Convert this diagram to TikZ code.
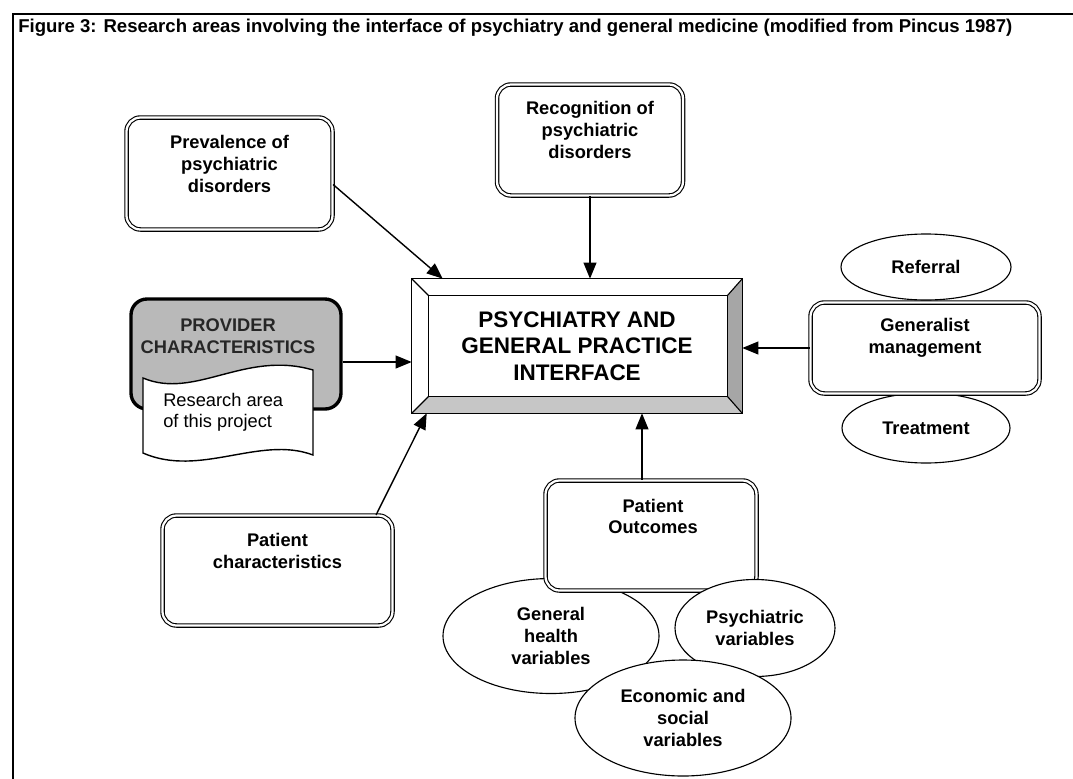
\documentclass[tikz,border=0pt]{standalone}
\usepackage{fontspec}
\setmainfont{Liberation Sans}
\usetikzlibrary{calc}
\usetikzlibrary{positioning}
\usetikzlibrary{arrows.meta}
\usetikzlibrary{shapes.geometric}

\newcommand{\pxu}{0.025cm}

\tikzset{
  dbox/.style={draw, line width=0.8pt, double, double distance=1.6pt, rounded corners=0.35cm, fill=white, inner sep=0pt},
  lbl/.style={align=center, inner sep=0pt, font=\fontsize{13}{15.5}\selectfont\bfseries},
  oval/.style={ellipse, draw, line width=0.8pt, fill=white, inner sep=0pt, align=center, font=\fontsize{13}{15.5}\selectfont\bfseries},
  arr/.style={line width=1pt, -{Triangle[length=0.4cm,width=0.32cm]}},
}

\begin{document}
\begin{tikzpicture}[x=0.025cm, y=-0.025cm]
      \useasboundingbox (0,0) rectangle (1073,778);
      \draw[line width=1pt] (13,790) -- (13,14) -- (1090,14);
      \node[anchor=west, inner sep=0pt, font=\fontsize{13.2}{15}\selectfont\bfseries] (title) at (18,28) {Figure 3: Research areas involving the interface of psychiatry and general medicine (modified from Pincus 1987)};

      \node[dbox, minimum width=206*\pxu, minimum height=112*\pxu] (prev) at (229.5,173.5) {};
      \node[lbl] (prevtxt) at (229.5,164) {Prevalence of\\psychiatric\\disorders};

      \node[dbox, minimum width=186*\pxu, minimum height=111*\pxu] (rec) at (590,140) {};
      \node[lbl] (rectxt) at (590,130) {Recognition of\\psychiatric\\disorders};

      \node[draw, line width=2.4pt, fill=gray!55, rounded corners=0.4cm, minimum width=210*\pxu, minimum height=110*\pxu] (prov) at (236,354) {};
      \node[lbl, text=black!85] (provtxt) at (228,336) {PROVIDER\\CHARACTERISTICS};
      \draw[line width=1pt, fill=white] (143,378) .. controls (195,400) and (245,350) .. (313,370)
        -- (313,455) .. controls (260,435) and (200,478) .. (143,453) -- cycle;
      \node[anchor=west, inner sep=0pt, align=left, font=\fontsize{13}{15}\selectfont] (doctxt) at (163,412) {Research area\\of this project};

      \node[dbox, minimum width=230*\pxu, minimum height=110*\pxu] (pchar) at (277.5,570.5) {};
      \node[lbl] (pchartxt) at (277.5,551) {Patient\\characteristics};

      \node[oval, minimum width=170*\pxu, minimum height=66*\pxu] (refer) at (926,267) {Referral};
      \node[oval, minimum width=168*\pxu, minimum height=70*\pxu] (treat) at (926,428) {Treatment};
      \node[dbox, minimum width=229*\pxu, minimum height=91*\pxu] (gen) at (925,348) {};
      \node[lbl] (gentxt) at (925,337.5) {Generalist\\management};

      \node[minimum width=330*\pxu, minimum height=134*\pxu, inner sep=0pt, align=center, font=\fontsize{16}{19}\selectfont\bfseries] (iface) at (577,346) {PSYCHIATRY AND\\GENERAL PRACTICE\\INTERFACE};
      \coordinate (ia) at ($(iface.north west)+(17,17)$);
      \coordinate (ib) at ($(iface.north east)+(-15,17)$);
      \coordinate (ic) at ($(iface.south east)+(-15,-17)$);
      \coordinate (id) at ($(iface.south west)+(17,-17)$);
      \fill[gray!45] (iface.south west) -- (id) -- (ic) -- (iface.south east) -- cycle;
      \fill[gray!70] (iface.south east) -- (ic) -- (ib) -- (iface.north east) -- cycle;
      \draw[line width=1pt] (iface.north west) rectangle (iface.south east);
      \draw[line width=1pt] (ia) rectangle (ic);
      \draw[line width=0.8pt] (iface.north west) -- (ia) (iface.north east) -- (ib)
        (iface.south east) -- (ic) (iface.south west) -- (id);

      \node[oval, minimum width=216*\pxu, minimum height=115*\pxu] (genhealth) at (551,636) {General\\health\\variables};
      \node[dbox, minimum width=211*\pxu, minimum height=110*\pxu] (out) at (651,535.5) {};
      \node[lbl] (outtxt) at (653,516.5) {Patient\\Outcomes};
      \node[oval, minimum width=160*\pxu, minimum height=97*\pxu] (psych) at (755,628) {Psychiatric\\variables};
      \node[oval, minimum width=216*\pxu, minimum height=116*\pxu] (econ) at (683,718) {Economic and\\social\\variables};

      \coordinate (provout) at ($(prov.east)+(0,8)$);
      \coordinate (outtop) at ($(out.north)+(-9,0)$);
      \draw[arr] ($(prev.east)+(0,11)$) -- ($(iface.north west)+(31,0)$);
      \draw[arr] (rec.south) -- (rec.south |- iface.north);
      \draw[arr] (provout) -- (provout -| iface.west);
      \draw[arr] ($(pchar.north east)+(-17,0)$) -- ($(iface.south west)+(15,0)$);
      \draw[arr] (gen.west) -- (gen.west -| iface.east);
      \draw[arr] (outtop) -- (outtop |- iface.south);
    \end{tikzpicture}
\end{document}
